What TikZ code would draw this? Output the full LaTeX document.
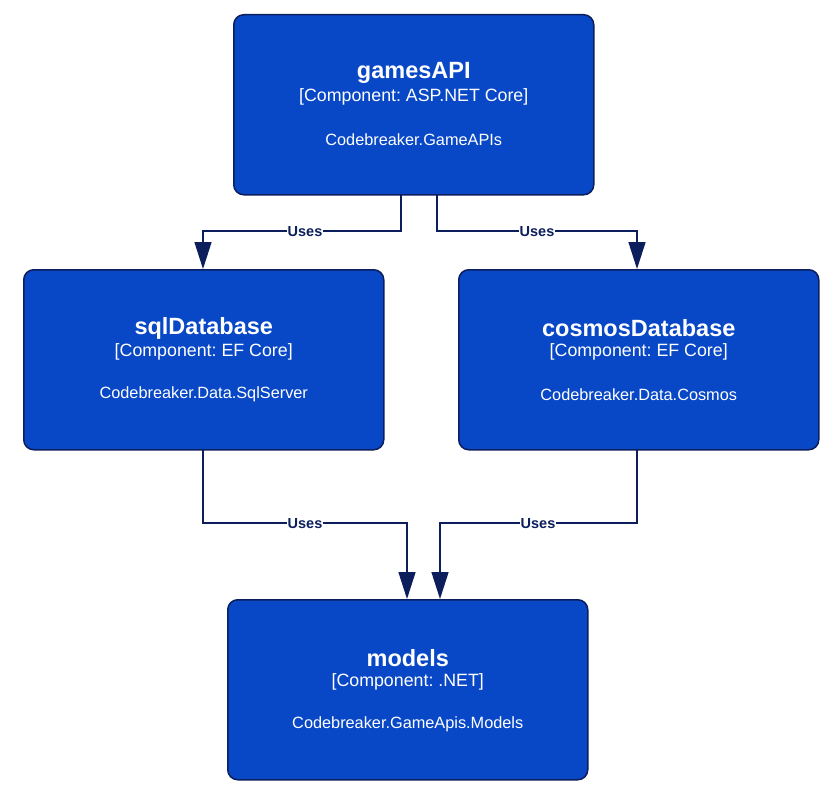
\documentclass[tikz,border=0pt]{standalone}
\usepackage{fontspec}
\setmainfont{Liberation Sans}
\usetikzlibrary{arrows.meta}
\frenchspacing
\definecolor{boxfill}{RGB}{8,72,199}
\definecolor{boxline}{RGB}{12,30,92}
\definecolor{edgecol}{RGB}{12,30,92}
\tikzset{
  comp/.style={draw=boxline, fill=boxfill, line width=1.5pt, rounded corners=10pt,
    minimum width=360pt, minimum height=180pt, inner sep=0pt, anchor=north west},
  ttl/.style={text=white, font=\fontsize{23.5}{26}\selectfont\bfseries, anchor=center, inner sep=0pt},
  tech/.style={text=white, font=\fontsize{17.8}{20}\selectfont, anchor=center, inner sep=0pt},
  desc/.style={text=white, font=\fontsize{16.3}{19}\selectfont, anchor=center, inner sep=0pt},
  rel/.style={draw=edgecol, line width=1.5pt, -{Triangle[width=17pt,length=27pt]}},
  lbl/.style={fill=white, text=edgecol, font=\fontsize{14.5}{16}\selectfont\bfseries, inner sep=0.5pt}
}
\begin{document}
\begin{tikzpicture}[x=1pt,y=-1pt]
\useasboundingbox (0,0) rectangle (833,792);
% boxes
\node[comp] (api) at (233,14) {};
\node[comp] (sql) at (23,269) {};
\node[comp] (cos) at (458,269) {};
\node[comp] (mod) at (227,599) {};
% texts
\foreach \b/\t/\k/\d in {api/gamesAPI/ASP.NET Core/Codebreaker.GameAPIs,
                          sql/sqlDatabase/EF Core/Codebreaker.Data.SqlServer,
                          cos/cosmosDatabase/EF Core/Codebreaker.Data.Cosmos,
                          mod/models/.NET/Codebreaker.GameApis.Models}{
  \node[ttl]  (\b-t) at ([yshift=31.5pt]\b.center) {\t};
  \node[tech] (\b-k) at ([yshift=7.5pt]\b.center) {[Component: \k]};
  \node[desc] (\b-d) at ([yshift=-35pt]\b.center) {\d};
}
% connector coordinates
\coordinate (a1) at (401,194);
\coordinate (a2) at (437,194);
\coordinate (s1) at (203,449);
\coordinate (c1) at (637,449);
\coordinate (m1) at (407,599);
\coordinate (m2) at (440,599);
% edges
\draw[rel] (a1) -- (401,231) -| (sql.north -| s1);
\draw[rel] (a2) -- (437,231) -| (cos.north -| c1);
\draw[rel] (s1) -- (203,523) -| (mod.north -| m1);
\draw[rel] (c1) -- (637,523) -| (mod.north -| m2);
% labels
\node[lbl] (l1) at (305,231.5) {Uses};
\node[lbl] (l2) at (537,231.5) {Uses};
\node[lbl] (l3) at (305,523.5) {Uses};
\node[lbl] (l4) at (538,523.5) {Uses};
\end{tikzpicture}
\end{document}
